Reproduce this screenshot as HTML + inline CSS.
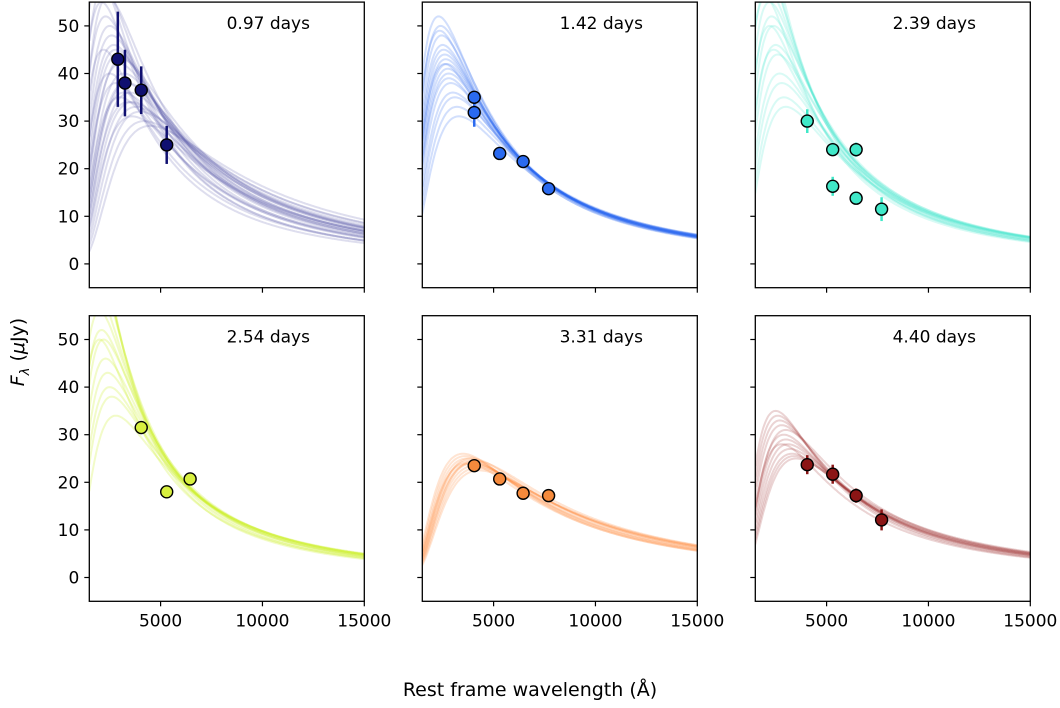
<!DOCTYPE html>
<html><head><meta charset="utf-8"><style>
body{margin:0;background:#fff}
svg text{font-family:"DejaVu Sans","Liberation Sans",sans-serif;fill:#000}
</style></head><body>
<svg id="fig" width="1060" height="703" xmlns="http://www.w3.org/2000/svg">
<text transform="translate(24,352) rotate(-90)" text-anchor="middle" font-size="19"><tspan font-style="italic">F</tspan><tspan font-style="italic" font-size="13" dy="5">λ</tspan><tspan dy="-5"> (</tspan><tspan font-style="italic">μ</tspan><tspan>Jy)</tspan></text>
<text x="530" y="696" text-anchor="middle" font-size="19">Rest frame wavelength (Å)</text>
</svg>
<script>
const panelLabels=["0.97 days","1.42 days","2.39 days","2.54 days","3.31 days","4.40 days"];
const xTicks=[5000,10000,15000];
const yTicks=[0,10,20,30,40,50];
const p1PeakWave=[2000,2100,2200,2300,2400,2500,2600,2700,2800,2900,3000,3100,3200,3300,3400,3500,3600,3800,4000,4200,4500,2500,3000,2200,3200,3400,3600,2800];
const p1PeakFlux=[60,55,58,52,56,50,48,46,45,44,42,43,40,38,38,36,34,33,32,30,29,40,35,45,36,34,31,38];
const p2PeakWave=[2300,2400,2450,2500,2550,2600,2650,2700,2750,2800,2900,3000,3100,3200,3300,2350,2600,2800];
const p2PeakFlux=[52,50,48,46,45,44,43,42,41,40,38,36,35,33,31,49,42,39];
const p3PeakWave=[1800,1900,2000,2100,2200,2300,2400,2500,2600,2700,2800,2900,3000,2200,2400,2000];
const p3PeakFlux=[70,65,62,58,55,52,50,46,44,40,38,35,33,50,45,56];
const p4PeakWave=[1500,1600,1700,1800,1900,2000,2100,2200,2300,2400,2500,2600,2800,2000];
const p4PeakFlux=[80,75,70,66,60,56,52,50,46,43,40,38,34,50];
const p5PeakWave=[3500,3600,3700,3800,3900,4000,4100,4200,4300,3700,3900,4100];
const p5PeakFlux=[26,25.5,25,24.5,24,24,23.5,23,22.5,24,25,24.5];
const p6PeakWave=[2500,2600,2700,2800,2900,3000,3100,3200,3300,3400,3500,2800,3000];
const p6PeakFlux=[35,34,33,32,30,29,28,27,26,25.5,25,28,31];
const p1ObsWave=[2900,3250,4050,5300], p1ObsFlux=[43,38,36.5,25], p1ObsErr=[10,7,5,4];
const p2ObsWave=[4050,4050,5300,6450,7700], p2ObsFlux=[35,31.8,23.2,21.5,15.8], p2ObsErr=[1,3,1,1,1];
const p3ObsWave=[4050,5300,6450,5300,6450,7700], p3ObsFlux=[30,24,24,16.3,13.8,11.5], p3ObsErr=[2.5,1,1.5,2,1,2.5];
const p4ObsWave=[4050,5300,6450], p4ObsFlux=[31.5,18,20.7], p4ObsErr=[0.5,0.5,0.5];
const p5ObsWave=[4050,5300,6450,7700], p5ObsFlux=[23.5,20.7,17.7,17.2], p5ObsErr=[1,0.8,0.8,1];
const p6ObsWave=[4050,5300,6450,7700], p6ObsFlux=[23.7,21.7,17.2,12.1], p6ObsErr=[2,2,1.5,2.2];

const NS="http://www.w3.org/2000/svg";
const svg=document.getElementById('fig');
const lineColors=["#5a5aa8","#2060f0","#40e8cc","#ccee22","#ff8530","#9a2a2a"];
const lineAlpha=[0.2,0.2,0.2,0.25,0.22,0.2];
const dotColors=["#101070","#2a6af0","#40e8c8","#d8f040","#f58a3c","#8b1515"];
const models=[[p1PeakWave,p1PeakFlux],[p2PeakWave,p2PeakFlux],[p3PeakWave,p3PeakFlux],[p4PeakWave,p4PeakFlux],[p5PeakWave,p5PeakFlux],[p6PeakWave,p6PeakFlux]];
const obs=[[p1ObsWave,p1ObsFlux,p1ObsErr],[p2ObsWave,p2ObsFlux,p2ObsErr],[p3ObsWave,p3ObsFlux,p3ObsErr],[p4ObsWave,p4ObsFlux,p4ObsErr],[p5ObsWave,p5ObsFlux,p5ObsErr],[p6ObsWave,p6ObsFlux,p6ObsErr]];
const lefts=[89.3,422.3,755.3], tops=[2.1,315.7], W=275, H=285.6;
const XMIN=1500,XMAX=15000,YMIN=-5,YMAX=55;
function mk(tag,attrs){const e=document.createElementNS(NS,tag);for(const k in attrs)e.setAttribute(k,attrs[k]);return e;}
function bnu(x){return x*x*x/(Math.exp(x)-1);}
const BPK=bnu(2.821);
for(let i=0;i<6;i++){
  const col=i%3,row=Math.floor(i/3);
  const L=lefts[col],T=tops[row];
  const sx=v=>L+(v-XMIN)/(XMAX-XMIN)*W;
  const sy=v=>T+H-(v-YMIN)/(YMAX-YMIN)*H;
  const g=mk('g',{});
  
  
  svg.appendChild(g);
  const cp=mk('clipPath',{id:'c'+i});cp.appendChild(mk('rect',{x:L,y:T,width:W,height:H}));g.appendChild(cp);
  const cg=mk('g',{'clip-path':'url(#c'+i+')'});g.appendChild(cg);
  const [pw,pf]=models[i];
  for(let k=0;k<pw.length;k++){
    let d='';
    for(let lam=XMIN;lam<=XMAX;lam+=50){
      const x=2.821*pw[k]/lam;
      const f=pf[k]*bnu(x)/BPK;
      d+=(d?'L':'M')+sx(lam).toFixed(1)+','+sy(f).toFixed(1);
    }
    const p=mk('path',{d:d,fill:'none',stroke:lineColors[i],'stroke-width':2,'stroke-opacity':lineAlpha[i]});
    
    
    cg.appendChild(p);
  }
  const [ow,of,oe]=obs[i];
  for(let k=0;k<ow.length;k++){
    const e=mk('line',{x1:sx(ow[k]),x2:sx(ow[k]),y1:sy(of[k]-oe[k]),y2:sy(of[k]+oe[k]),stroke:dotColors[i],'stroke-width':2.5});
    
    
    cg.appendChild(e);
  }
  for(let k=0;k<ow.length;k++){
    const c=mk('circle',{cx:sx(ow[k]),cy:sy(of[k]),r:6,fill:dotColors[i],stroke:'#000','stroke-width':1.4});
    
    
    cg.appendChild(c);
  }
  const fr=mk('rect',{x:L,y:T,width:W,height:H,fill:'none',stroke:'#000','stroke-width':1.3});
  
  
  g.appendChild(fr);
  const lb=mk('text',{x:L+179,y:T+27,'text-anchor':'middle','font-size':17});
  lb.textContent=panelLabels[i];
  
  
  g.appendChild(lb);
  for(const t of xTicks){
    g.appendChild(mk('line',{x1:sx(t),x2:sx(t),y1:T+H,y2:T+H+5,stroke:'#000','stroke-width':1.2}));
    if(row===1){
      const tx=mk('text',{x:sx(t),y:T+H+25,'text-anchor':'middle','font-size':17});
      tx.textContent=t;
      
      
      g.appendChild(tx);
    }
  }
  for(const t of yTicks){
    g.appendChild(mk('line',{x1:L-5,x2:L,y1:sy(t),y2:sy(t),stroke:'#000','stroke-width':1.2}));
    if(col===0){
      const ty=mk('text',{x:L-10,y:sy(t)+6,'text-anchor':'end','font-size':17});
      ty.textContent=t;
      
      
      g.appendChild(ty);
    }
  }
}
</script>
</body></html>
